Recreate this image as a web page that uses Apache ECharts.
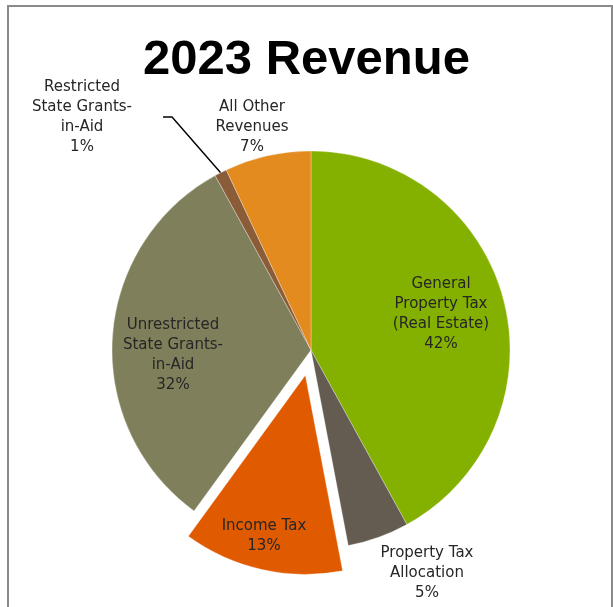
<!DOCTYPE html>
<html>
<head>
<meta charset="utf-8">
<script src="https://cdn.jsdelivr.net/npm/echarts@6/dist/echarts.min.js"></script>
<style>
  html, body { margin: 0; padding: 0; background: #fff; }
  #chart { width: 613px; height: 607px; }
</style>
</head>
<body>
<div id="chart"></div>
<script>
// Revenue sources for 2023, share of total (percent), clockwise from 12 o'clock
const categories = [
  'General\nProperty Tax\n(Real Estate)',
  'Property Tax\nAllocation',
  'Income Tax',
  'Unrestricted\nState Grants-\nin-Aid',
  'Restricted\nState Grants-\nin-Aid',
  'All Other\nRevenues'
];
const shares = [42, 5, 13, 32, 1, 7];
const sliceColors = ['#84B000', '#645B51', '#E05A00', '#7F7F5B', '#8A5C37', '#E38B1F'];
const explodedIndex = 2;

// Pie geometry
const CX = 311, CY = 350, R = 199;
const EXPLODE = 26;

// Label anchor offsets from the pie centre (px)
const labelOffsets = [
  [130, -36],
  [116, 223],
  [-47, 186],
  [-138, 5],
  [-229, -233],
  [-59, -223]
];
const leaderLineIndex = 4;

// Direction of the pulled-out slice, from its mid angle (clockwise from 12 o'clock)
const total = shares.reduce((a, b) => a + b, 0);
const before = shares.slice(0, explodedIndex).reduce((a, b) => a + b, 0);
const midAngle = (before + shares[explodedIndex] / 2) / total * 2 * Math.PI;
const exDX = EXPLODE * Math.sin(midAngle);
const exDY = -EXPLODE * Math.cos(midAngle);

const HIDDEN = { color: 'rgba(0,0,0,0)', borderWidth: 0 };

const labelStyle = {
  show: true,
  position: 'outside',
  formatter: '{b}\n{c}%',
  fontFamily: 'DejaVu Sans',
  fontSize: 15,
  lineHeight: 20,
  color: '#262626'
};

// Main pie: every slice except the pulled-out one
const mainData = shares.map((v, i) => {
  const item = { name: categories[i], value: v };
  if (i === explodedIndex) {
    item.itemStyle = HIDDEN;
    item.label = { show: false };
    item.labelLine = { show: false };
  } else {
    item.itemStyle = { color: sliceColors[i] };
    item.labelLine = { show: i === leaderLineIndex };
    // wider box so the leader line starts a little away from the text
    if (i === leaderLineIndex) item.label = { padding: [0, 31, 10, 31] };
  }
  return item;
});

// Same pie shifted outwards, showing only the pulled-out slice
const explodedData = shares.map((v, i) => {
  const item = { name: categories[i], value: v, labelLine: { show: false } };
  if (i === explodedIndex) {
    item.itemStyle = { color: sliceColors[i] };
  } else {
    item.itemStyle = HIDDEN;
    item.label = { show: false };
  }
  return item;
});

const labelLayout = function (params) {
  const off = labelOffsets[params.dataIndex];
  return {
    x: CX + off[0],
    y: CY + off[1],
    align: 'center',
    verticalAlign: 'middle'
  };
};

const pieBase = {
  type: 'pie',
  radius: R,
  startAngle: 90,
  clockwise: true,
  silent: true,
  avoidLabelOverlap: false,
  itemStyle: { borderColor: 'rgba(255,255,255,0.5)', borderWidth: 0.6 },
  label: labelStyle,
  labelLine: {
    length: 60,
    length2: 9,
    lineStyle: { color: '#000000', width: 1.4 }
  },
  labelLayout: labelLayout,
  emphasis: { disabled: true }
};

const chart = echarts.init(document.getElementById('chart'), null, { renderer: 'canvas' });

chart.setOption({
  animation: false,
  backgroundColor: '#ffffff',
  title: {
    text: '2023 Revenue',
    left: 'center',
    top: 36,
    padding: 0,
    textStyle: {
      fontFamily: 'Liberation Sans',
      fontWeight: 'bold',
      fontSize: 49,
      color: '#000000'
    }
  },
  graphic: [{
    type: 'rect',
    silent: true,
    shape: { x: 8, y: 6, width: 604, height: 700 },
    style: { fill: null, stroke: '#8a8a8a', lineWidth: 2 }
  }],
  series: [
    Object.assign({}, pieBase, { name: 'Revenue', center: [CX, CY], data: mainData }),
    Object.assign({}, pieBase, { name: 'Revenue (pulled out)', center: [CX + exDX, CY + exDY], data: explodedData })
  ]
});
</script>
</body>
</html>
